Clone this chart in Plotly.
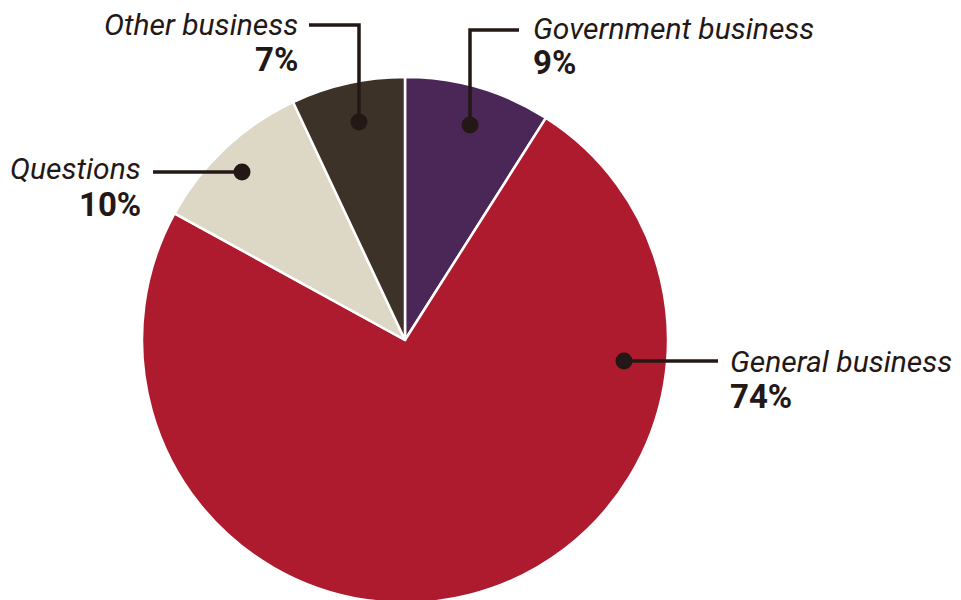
import plotly.graph_objects as go

categories = ["Government business", "General business", "Questions", "Other business"]
values = [9, 74, 10, 7]
pct_labels = ["9%", "74%", "10%", "7%"]
colors = ["#4B2758", "#AE1A2E", "#DDD8C6", "#3D3228"]

W, H = 961, 600
OFF = 8  # page body margin offset
TXT = "#231815"

def px(x):
    return (x - OFF) / W

def py(y):
    return 1 - (y - OFF) / H

fig = go.Figure(go.Pie(
    labels=categories,
    values=values,
    sort=False,
    direction="clockwise",
    rotation=0,
    marker=dict(colors=colors, line=dict(color="white", width=2.5)),
    textinfo="none",
    hoverinfo="label+percent",
    showlegend=False,
    domain=dict(x=[px(142), px(668)], y=[py(603), py(77)]),
))

# callouts: (category index, dot, leader path, text x, name y, pct y, align)
callouts = [
    (0, (470, 125), [(470, 125), (470, 30), (519, 30)], 532, 28, 62, "left"),
    (3, (359, 122), [(359, 122), (359, 25), (309, 25)], 299, 24, 59, "right"),
    (2, (242, 172), [(242, 172), (153, 172)], 142, 168, 204, "right"),
    (1, (624, 361), [(624, 361), (718, 361)], 729, 361, 396, "left"),
]

shapes = []
annotations = []
for idx, dot, pts, tx, ny, pcy, align in callouts:
    path = "M " + " L ".join(f"{px(x)},{py(y)}" for x, y in pts)
    shapes.append(dict(type="path", xref="paper", yref="paper", path=path,
                       line=dict(color=TXT, width=3.5)))
    r = 8.5
    shapes.append(dict(type="circle", xref="paper", yref="paper",
                       x0=px(dot[0] - r), x1=px(dot[0] + r),
                       y0=py(dot[1] + r), y1=py(dot[1] - r),
                       fillcolor=TXT, line=dict(color=TXT, width=0)))
    annotations.append(dict(xref="paper", yref="paper", x=px(tx), y=py(ny),
                            text=f"<i>{categories[idx]}</i>", showarrow=False,
                            xanchor=align, yanchor="middle", height=30, valign="middle",
                            borderpad=0,
                            font=dict(family="Roboto", size=30, color=TXT)))
    annotations.append(dict(xref="paper", yref="paper", x=px(tx), y=py(pcy),
                            text=f"<b>{pct_labels[idx]}</b>", showarrow=False,
                            xanchor=align, yanchor="middle", height=30, valign="middle",
                            borderpad=0,
                            font=dict(family="Roboto", size=33, color=TXT)))

fig.update_layout(
    width=W, height=H,
    margin=dict(l=0, r=0, t=0, b=0),
    paper_bgcolor="white",
    plot_bgcolor="white",
    shapes=shapes,
    annotations=annotations,
)

fig.write_html("out.html")
